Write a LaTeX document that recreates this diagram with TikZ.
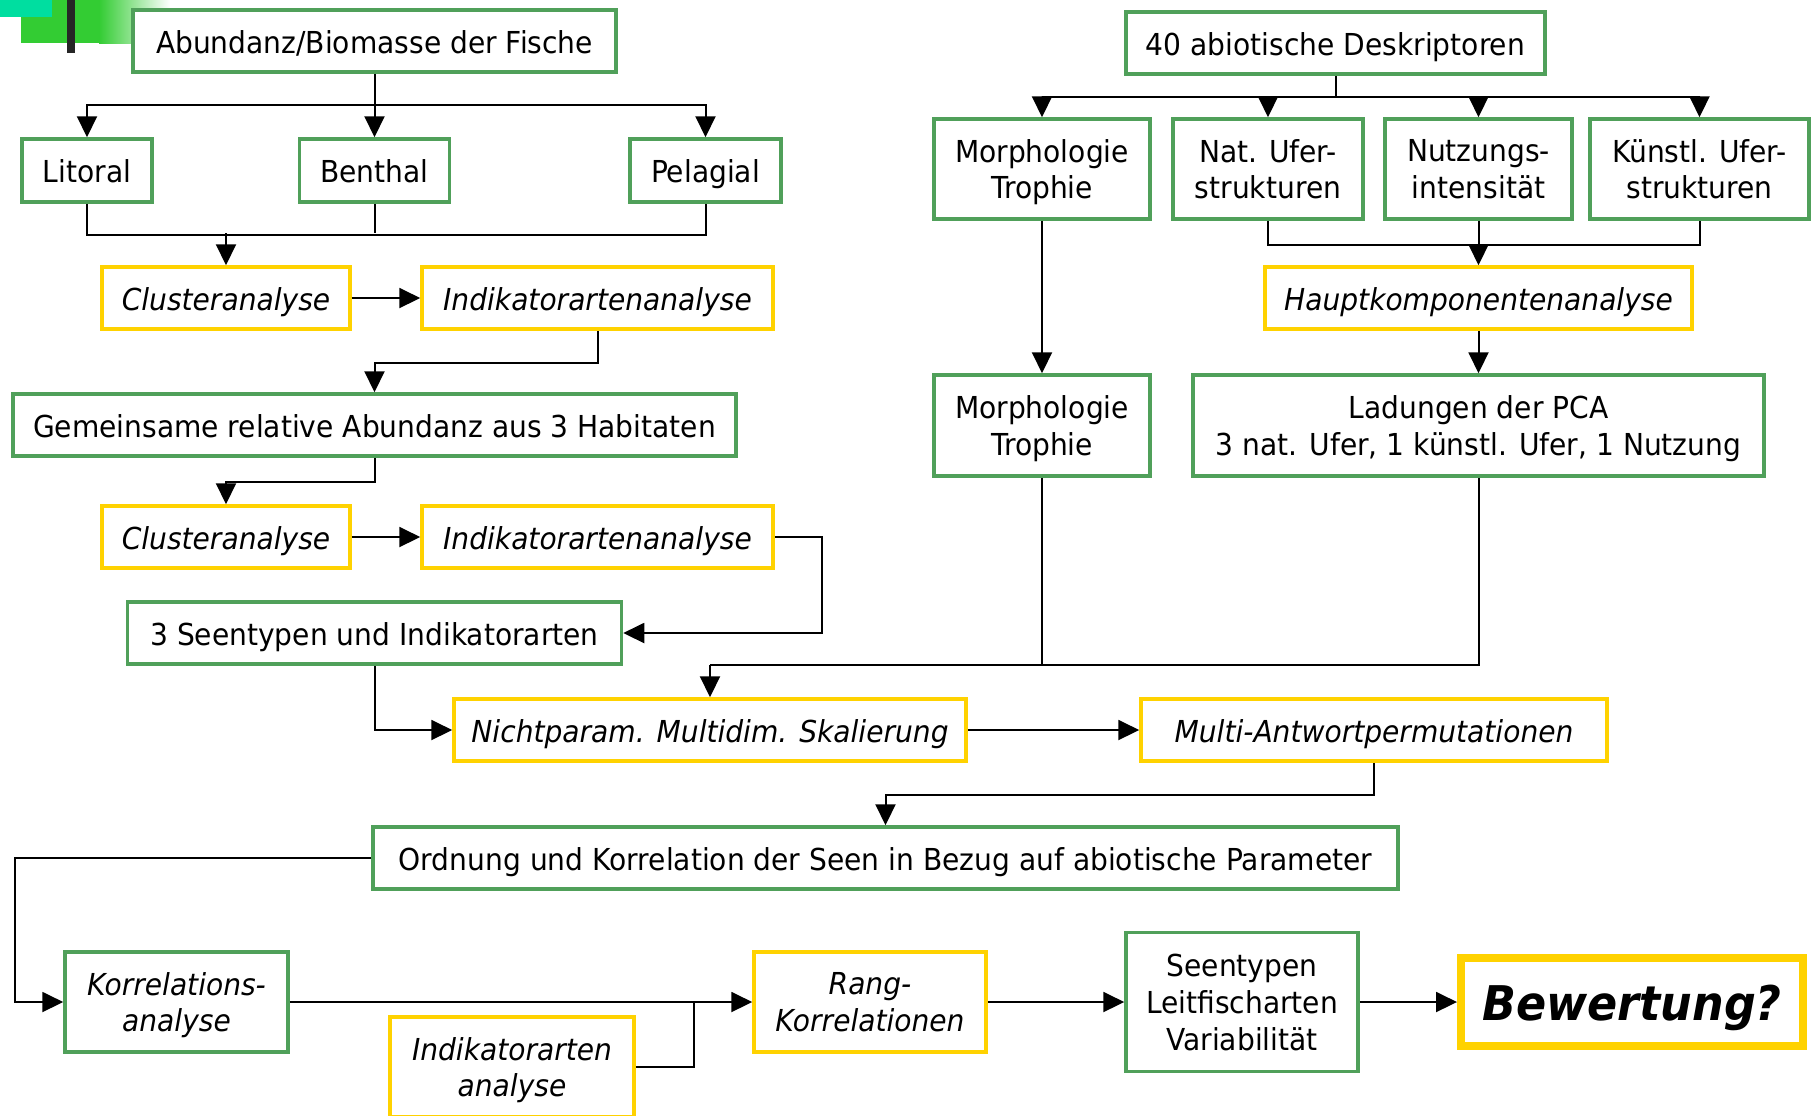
\documentclass[tikz,border=0pt]{standalone}
\usepackage{fontspec}
\setmainfont[FakeStretch=0.93]{DejaVu Sans}
\usepackage{tikz}
\usetikzlibrary{positioning,calc,arrows.meta}
\definecolor{boxgreen}{RGB}{80,160,90}
\definecolor{boxyellow}{RGB}{255,210,0}
\definecolor{decocyan}{RGB}{0,222,160}
\definecolor{decogreen}{RGB}{51,204,51}
\newcommand{\fs}{\fontsize{8.6pt}{10.5pt}\selectfont}
\tikzset{
  wire/.style  = {line width=0.2mm},
  arr/.style   = {line width=0.2mm, -{Triangle[length=2.1mm,width=2mm]}},
  gbox/.style  = {draw=boxgreen, line width=0.35mm, fill=white, inner sep=1pt,
                  align=center, text depth=0pt, font=\fs},
  ybox/.style  = {draw=boxyellow, line width=0.35mm, fill=white, inner sep=1pt,
                  align=center, text depth=0pt, font=\fs\itshape},
  one/.style   = {text height=7pt, minimum height=6.2mm},
  bbox/.style  = {draw=boxyellow, line width=0.8mm, fill=white, inner sep=1pt,
                  text height=10.5pt, text depth=0pt,
                  font=\fontsize{13.6pt}{16pt}\selectfont\bfseries\itshape},
}

\begin{document}
\begin{tikzpicture}[x=0.1mm,y=-0.1mm]
  \useasboundingbox (0,0) rectangle (1811,1115);
  \clip (0,0) rectangle (1811,1115);
  \fill[decogreen] (21,0) rectangle (99,43);
  \shade[left color=decogreen, right color=white] (99,0) rectangle (170,43);
  \fill[decocyan] (0,0) rectangle (52,17);
  \fill[black!85] (67,0) rectangle (75,53);

  \node[gbox, one, minimum width=48.3mm] (abund) at (374.5,41) {Abundanz/Biomasse der Fische};
  \node[gbox, one, minimum width=13mm, minimum height=6.3mm] (litoral) at (87,170.5) {Litoral};
  \node[gbox, one, minimum width=15mm, minimum height=6.3mm] (benthal) at (374.5,170.5) {Benthal};
  \node[gbox, one, minimum width=15.1mm, minimum height=6.3mm] (pelagial) at (705.5,170.5) {Pelagial};
  \node[ybox, one, minimum width=24.8mm] (clus1) at (226,298) {Clusteranalyse};
  \node[ybox, one, minimum width=35.1mm] (ind1) at (597.5,298) {Indikatorartenanalyse};
  \node[gbox, one, minimum width=72.3mm] (gemein) at (374.5,425) {Gemeinsame relative Abundanz aus 3 Habitaten};
  \node[ybox, one, minimum width=24.8mm] (clus2) at (226,537) {Clusteranalyse};
  \node[ybox, one, minimum width=35.1mm] (ind2) at (597.5,537) {Indikatorartenanalyse};
  \node[gbox, one, minimum width=49.4mm] (seen3) at (374.5,633) {3 Seentypen und Indikatorarten};
  \node[ybox, one, minimum width=51.2mm] (nmds) at (710,730) {Nichtparam. Multidim. Skalierung};
  \node[ybox, one, minimum width=46.6mm] (mrpp) at (1374,730) {Multi-Antwortpermutationen};
  \node[gbox, one, minimum width=102.5mm] (ordnung) at (885.5,858) {Ordnung und Korrelation der Seen in Bezug auf abiotische Parameter};
  \node[gbox, font=\fs\itshape, minimum width=22.3mm, minimum height=10mm] (korr) at (176.5,1002) {Korrelations-\\analyse};
  \node[ybox, minimum width=24.4mm, minimum height=10mm] (indana) at (512,1067) {Indikatorarten\\analyse};
  \node[ybox, minimum width=23.2mm, minimum height=10mm] (rang) at (870,1002) {Rang-\\Korrelationen};
  \node[gbox, minimum width=23.2mm, minimum height=13.9mm] (leit) at (1242,1002) {Seentypen\\Leitfischarten\\Variabilität};
  \node[bbox, minimum width=34.2mm, minimum height=8.8mm] (bew) at (1632,1002) {Bewertung?};

  \node[gbox, one, minimum width=41.9mm] (abio) at (1335.5,43) {40 abiotische Deskriptoren};
  \node[gbox, minimum width=21.6mm, minimum height=10mm] (morph1) at (1042,169) {Morphologie\\Trophie};
  \node[gbox, minimum width=19mm, minimum height=10mm] (natufer) at (1268,169) {Nat. Ufer-\\strukturen};
  \node[gbox, minimum width=18.7mm, minimum height=10mm] (nutz) at (1478.5,169) {Nutzungs-\\intensität};
  \node[gbox, minimum width=21.9mm, minimum height=10mm] (kuenst) at (1699.5,169) {Künstl. Ufer-\\strukturen};
  \node[ybox, one, minimum width=42.7mm] (haupt) at (1478.5,298) {Hauptkomponentenanalyse};
  \node[gbox, minimum width=21.6mm, minimum height=10.1mm] (morph2) at (1042,425.5) {Morphologie\\Trophie};
  \node[gbox, minimum width=57.1mm, minimum height=10.1mm] (ladung) at (1478.5,425.5) {Ladungen der PCA\\3 nat. Ufer, 1 künstl. Ufer, 1 Nutzung};

  \coordinate (busA) at (374.5,105);
  \coordinate (joinL) at (226,233);
  \coordinate (merge) at (710,665);
  \coordinate (joinK) at (694,1002);
  \coordinate (busR) at (1335.5,97);

  \draw[wire] (abund.south) -- (busA);
  \draw[arr] (busA) -| (litoral.north);
  \draw[arr] (busA) -| (pelagial.north);
  \draw[arr] (busA) -- (benthal.north);
  \draw[wire] (litoral.south) -- ++(0,31) -| (pelagial.south);
  \draw[wire] (benthal.south) -- (benthal.south |- joinL);
  \draw[arr] (joinL) -- (clus1.north);
  \draw[arr] (clus1) -- (ind1);
  \draw[arr] (ind1.south) -- ++(0,32.5) -| (gemein.north);
  \draw[arr] (gemein.south) -- ++(0,24) -| (clus2.north);
  \draw[arr] (clus2) -- (ind2);
  \draw[arr] (ind2.east) -- ++(47,0) |- (seen3.east);
  \draw[arr] (seen3.south) |- (nmds.west);
  \draw[wire] (ladung.south) |- (merge);
  \draw[wire] (morph2.south) -- (morph2.south |- merge);
  \draw[arr] (merge) -- (nmds.north);
  \draw[arr] (nmds) -- (mrpp);
  \draw[arr] (mrpp.south) -- ++(0,32) -| (ordnung.north);
  \draw[arr] (ordnung.west) -- ++(-356,0) |- (korr.west);
  \draw[arr] (korr) -- (rang);
  \draw[wire] (indana.east) -| (joinK);
  \draw[arr] (rang) -- (leit);
  \draw[arr] (leit) -- (bew);

  \draw[wire] (abio.south) -- (busR);
  \draw[arr] (busR) -| (morph1.north);
  \draw[arr] (busR) -| (natufer.north);
  \draw[arr] (busR) -| (nutz.north);
  \draw[arr] (busR) -| (kuenst.north);
  \draw[wire] (natufer.south) -- ++(0,24) -| (kuenst.south);
  \draw[arr] (nutz.south) -- (haupt.north);
  \draw[arr] (morph1) -- (morph2);
  \draw[arr] (haupt) -- (ladung);
\end{tikzpicture}
\end{document}
